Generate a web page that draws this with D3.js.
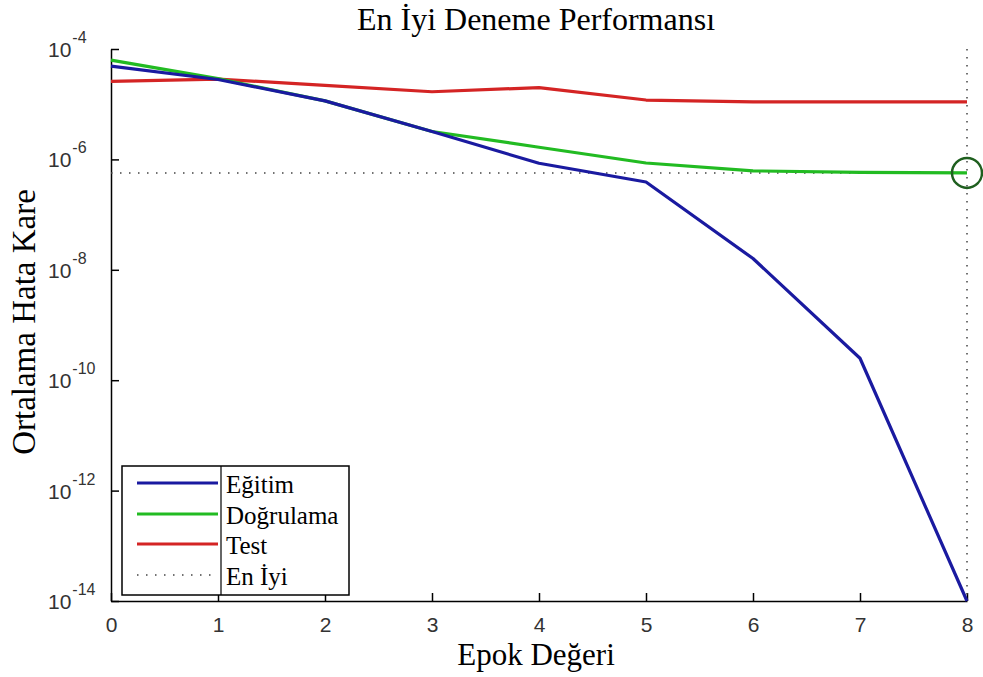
<!DOCTYPE html>
<html>
<head>
<meta charset="utf-8">
<script src="https://cdn.jsdelivr.net/npm/d3@7/dist/d3.min.js"></script>
<style>
  html, body { margin: 0; padding: 0; background: #fff; }
  svg { display: block; }
</style>
</head>
<body>
<svg id="chart" width="983" height="677"></svg>
<script>
const epochs = [0, 1, 2, 3, 4, 5, 6, 7, 8];
const egitim = [4.9e-5, 2.8e-5, 1.15e-5, 3.2e-6, 8.5e-7, 3.9e-7, 1.6e-8, 2.5e-10, 1e-14];
const dogrulama = [6.3e-5, 2.9e-5, 1.15e-5, 3.2e-6, 1.66e-6, 8.6e-7, 6.2e-7, 5.8e-7, 5.7e-7];
const test = [2.6e-5, 2.85e-5, 2.2e-5, 1.68e-5, 2.0e-5, 1.19e-5, 1.1e-5, 1.1e-5, 1.1e-5];
const bestEpoch = 8;
const bestValue = 5.7e-7;
const yTickExps = [-4, -6, -8, -10, -12, -14];
const xTicks = [0, 1, 2, 3, 4, 5, 6, 7, 8];
const seriesNames = ["Eğitim", "Doğrulama", "Test", "En İyi"];
const titleText = "En İyi Deneme Performansı";
const xLabelText = "Epok Değeri";
const yLabelText = "Ortalama Hata Kare";

const colors = { egitim: "#1a1aa0", dogrulama: "#22bb22", test: "#d42424", best: "#444", circle: "#1f5f1f" };
const serif = "'Liberation Serif', 'Times New Roman', serif";
const sans = "'Liberation Sans', Arial, Helvetica, sans-serif";

const svg = d3.select("#chart");
const x = d3.scaleLinear().domain([0, 8]).range([111, 967]);
const y = d3.scaleLog().domain([1e-14, 1e-4]).range([601, 49]);

// axes
const xAxis = d3.axisBottom(x).tickValues(xTicks).tickSize(-8).tickSizeOuter(0).tickPadding(16).tickFormat(d3.format("d"));
const gx = svg.append("g").attr("transform", "translate(0,601)").call(xAxis);
gx.select(".domain").attr("stroke", "#000").attr("stroke-width", 1.5);
gx.selectAll(".tick line").attr("stroke", "#000").attr("stroke-width", 1.5);
gx.selectAll(".tick text").attr("font-family", sans).attr("font-size", 21).attr("fill", "#333");

const yAxis = d3.axisLeft(y).tickValues(yTickExps.map(e => Math.pow(10, e))).tickSize(-8).tickSizeOuter(0).tickFormat("");
const gy = svg.append("g").attr("transform", "translate(111,0)").call(yAxis);
gy.select(".domain").attr("stroke", "#000").attr("stroke-width", 1.5);
gy.selectAll(".tick line").attr("stroke", "#000").attr("stroke-width", 1.5);

// y tick labels with superscripts
const yl = svg.append("g");
yTickExps.forEach(e => {
  const ty = y(Math.pow(10, e));
  const t = yl.append("text").attr("x", 48).attr("y", ty + 8)
    .attr("font-family", sans).attr("font-size", 21).attr("fill", "#333");
  t.append("tspan").text("10");
  t.append("tspan").attr("dx", 1).attr("dy", -14).attr("font-size", 16).text("-" + Math.abs(e));
});

// best dotted lines
svg.append("line")
  .attr("x1", x(0)).attr("x2", x(bestEpoch))
  .attr("y1", y(bestValue)).attr("y2", y(bestValue))
  .attr("stroke", colors.best).attr("stroke-width", 1.5).attr("stroke-dasharray", "1.5,7.5");
svg.append("line")
  .attr("x1", x(bestEpoch)).attr("x2", x(bestEpoch))
  .attr("y1", y(1e-4)).attr("y2", y(1e-14))
  .attr("stroke", colors.best).attr("stroke-width", 1.5).attr("stroke-dasharray", "1.5,6.5");

// series lines
const line = d3.line().x((d, i) => x(epochs[i])).y(d => y(d));
[[test, colors.test], [dogrulama, colors.dogrulama], [egitim, colors.egitim]].forEach(([data, c]) => {
  svg.append("path").datum(data).attr("d", line)
    .attr("fill", "none").attr("stroke", c).attr("stroke-width", 3.2)
    .attr("stroke-linejoin", "round");
});
svg.append("circle").attr("cx", x(bestEpoch)).attr("cy", y(bestValue)).attr("r", 15)
  .attr("fill", "none").attr("stroke", colors.circle).attr("stroke-width", 2.5);

// title and labels
svg.append("text").attr("x", 536).attr("y", 30).attr("text-anchor", "middle")
  .attr("font-family", serif).attr("font-size", 32).attr("fill", "#000").text(titleText);
svg.append("text").attr("x", 536).attr("y", 665).attr("text-anchor", "middle")
  .attr("font-family", serif).attr("font-size", 31).attr("fill", "#000").text(xLabelText);
svg.append("text").attr("transform", "translate(35,322) rotate(-90)").attr("text-anchor", "middle")
  .attr("font-family", serif).attr("font-size", 33).attr("fill", "#000").text(yLabelText);

// legend
const lg = svg.append("g");
lg.append("rect").attr("x", 122).attr("y", 466).attr("width", 227).attr("height", 129)
  .attr("fill", "#fff").attr("stroke", "#000").attr("stroke-width", 1.5);
lg.append("line").attr("x1", 221).attr("x2", 221).attr("y1", 466).attr("y2", 595)
  .attr("stroke", "#000").attr("stroke-width", 1.2);
const legendColors = [colors.egitim, colors.dogrulama, colors.test, colors.best];
const rowY = [483, 514, 544, 575];
seriesNames.forEach((name, i) => {
  const l = lg.append("line").attr("x1", 137).attr("x2", 218).attr("y1", rowY[i]).attr("y2", rowY[i])
    .attr("stroke", legendColors[i]);
  if (i === 3) l.attr("stroke-width", 1.5).attr("stroke-dasharray", "1.5,7.5");
  else l.attr("stroke-width", 3);
  lg.append("text").attr("x", 226).attr("y", rowY[i] + 10)
    .attr("font-family", serif).attr("font-size", 25).attr("fill", "#000").text(name);
});
</script>
</body>
</html>
